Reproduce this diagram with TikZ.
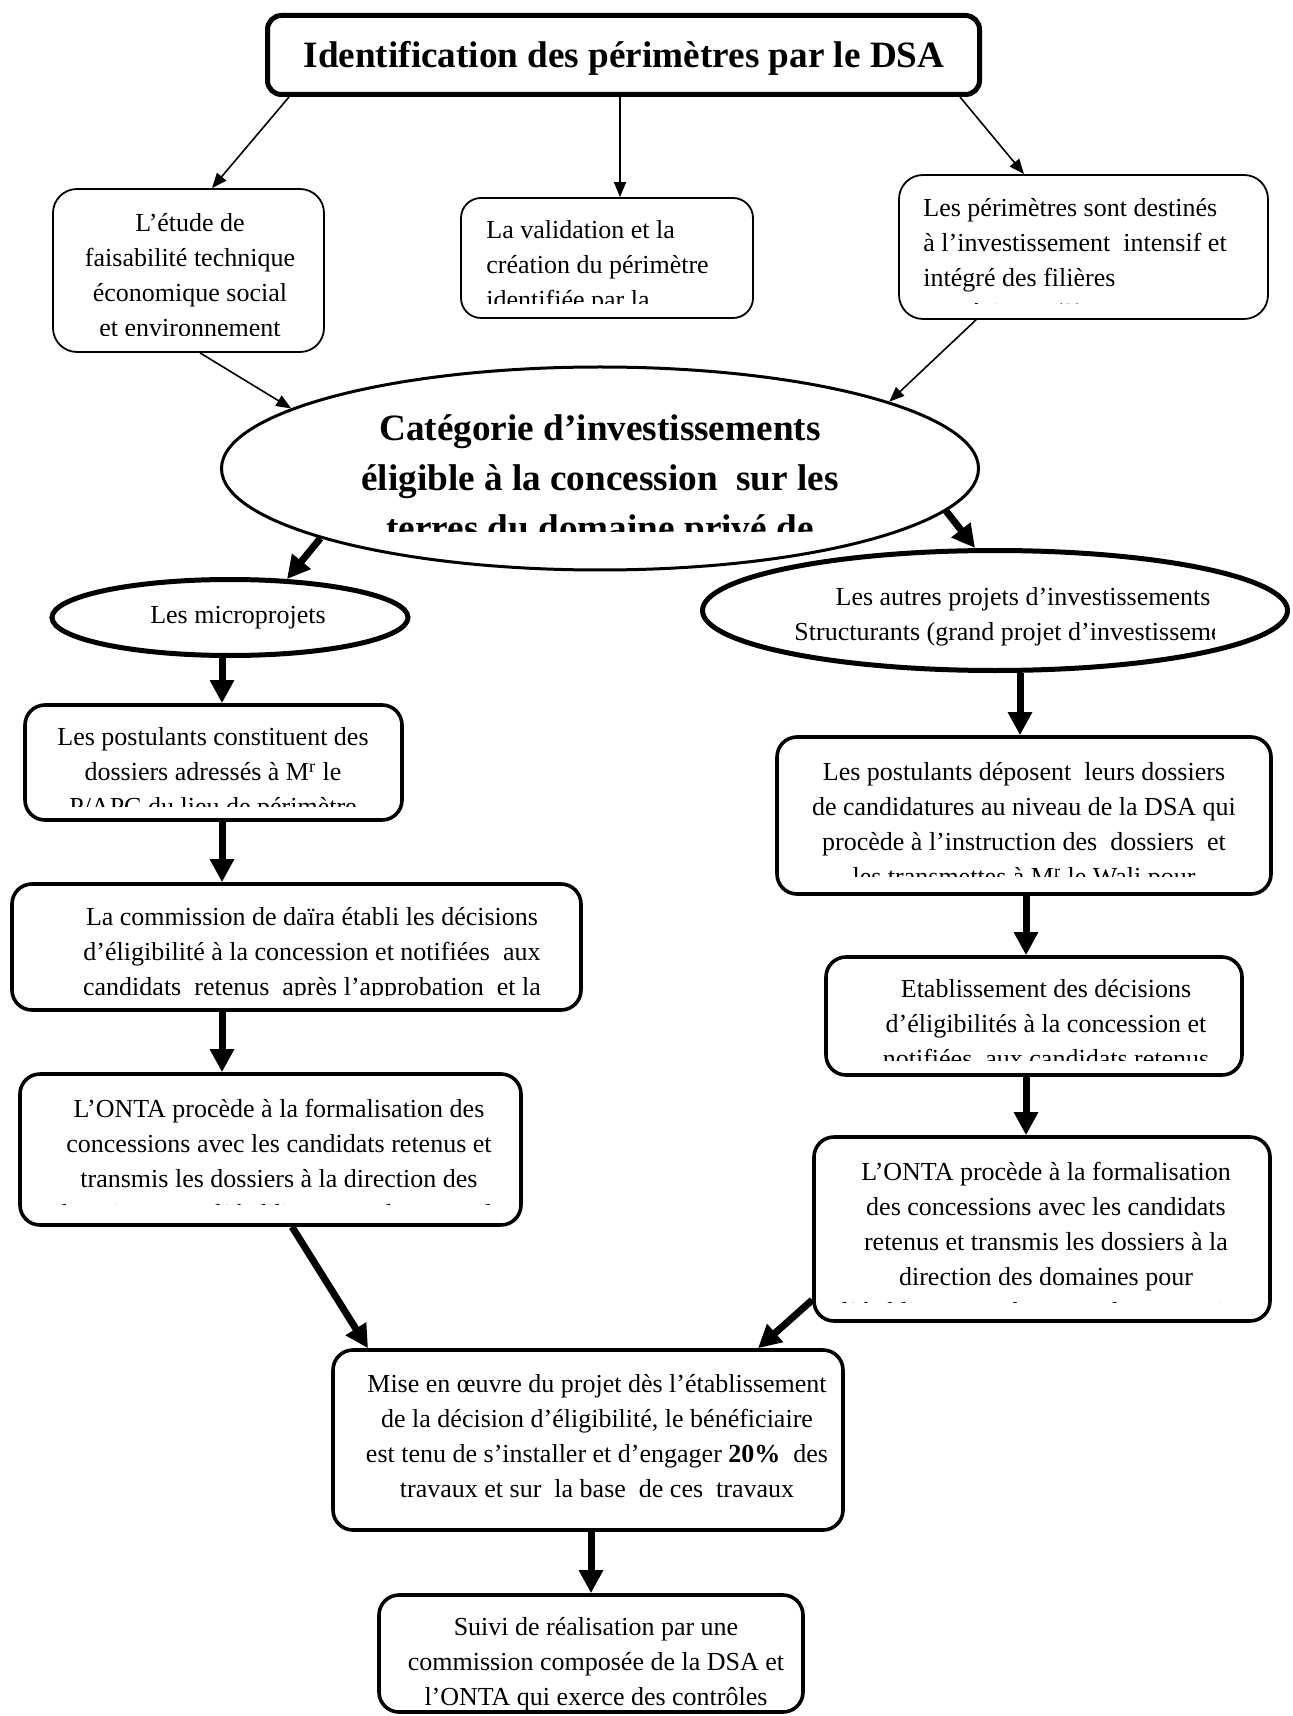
\documentclass[tikz,border=0pt]{standalone}
\usepackage{fontspec}
\setmainfont{Liberation Serif}
\usetikzlibrary{arrows.meta, shapes.geometric}

\begin{document}
\begin{tikzpicture}[x=0.5pt, y=-0.5pt,
		>={Triangle[length=7.5pt,width=6pt]},
		thinbox/.style={draw, line width=0.9pt, rounded corners=12pt, inner sep=0pt},
		thickbox/.style={draw, line width=1.8pt, rounded corners=10pt, inner sep=0pt},
		oval/.style={ellipse, draw, line width=2.5pt, inner sep=0pt},
		txt/.style={inner sep=0pt, align=center, anchor=north, font=\fontsize{13}{17.5}\selectfont, execute at begin node=\strut},
		thinarrow/.style={->, line width=0.8pt},
		bigarrow/.style={-{Triangle[length=11.5pt,width=11.5pt]}, line width=3.5pt}]

	\useasboundingbox (0,0) rectangle (1292,1716);

	% title
	\node[draw, line width=2.5pt, rounded corners=7pt, minimum width=356pt, minimum height=39.5pt] (dsa) at (623.5,55) {};
	\node[anchor=base, inner sep=0pt, font=\fontsize{18.6}{22}\selectfont\bfseries] (dsatxt) at (624,68) {Identification des périmètres par le DSA};

	% first row
	\node[thinbox, minimum width=135.5pt, minimum height=81.5pt] (etude) at (188.5,270.5) {};
	\begin{scope}
		\clip (etude.north west) rectangle (etude.east |- 0,336);
		\node[txt] (etudetxt) at (190,213.5) {L’étude de\\faisabilité technique\\économique social\\et environnement};
	\end{scope}

	\node[thinbox, rounded corners=10pt, minimum width=146pt, minimum height=60pt] (valid) at (607,258) {};
	\begin{scope}
		\clip (valid.north west) rectangle (valid.east |- 0,304);
		\node[txt, align=left, anchor=north west] (validtxt) at (486,220.5) {La validation et la\\création du périmètre\\identifiée par la};
	\end{scope}

	\node[thinbox, minimum width=184.5pt, minimum height=72pt] (perim) at (1083.5,247) {};
	\begin{scope}
		\clip (perim.north west) rectangle (perim.east |- 0,304);
		\node[txt, align=left, anchor=north west] (perimtxt) at (923,198.5) {Les périmètres sont destinés\\à l’investissement~ intensif et\\intégré des filières\\stratégiques (3)};
	\end{scope}

	% category
	\node[ellipse, draw, line width=1.5pt, inner sep=0pt, minimum width=378.5pt, minimum height=101.5pt] (cat) at (600,468.5) {};
	\begin{scope}
		\clip (cat.north west) rectangle (cat.east |- 0,532);
		\node[txt, font=\fontsize{18.6}{25}\selectfont\bfseries] (cattxt) at (600,414.5) {Catégorie d’investissements\\éligible à la concession~ sur les\\terres du domaine privé de};
	\end{scope}

	\node[oval, minimum width=178pt, minimum height=38pt] (micro) at (230,617.5) {};
	\node[txt] (microtxt) at (238,598.5) {Les microprojets};

	\node[oval, minimum width=292.5pt, minimum height=60pt] (autres) at (995,610.5) {};
	\begin{scope}
		\clip (autres.north west) rectangle (1214,0 |- autres.south);
		\node[txt] (autrestxt) at (1023,587.5) {Les autres projets d’investissements\\Structurants (grand projet d’investissement)};
	\end{scope}

	% left column
	\node[thickbox, minimum width=188.5pt, minimum height=57.5pt] (postmicro) at (213.5,762.5) {};
	\begin{scope}
		\clip (postmicro.north west) rectangle (postmicro.east |- 0,806);
		\node[txt] (postmicrotxt) at (213,727.5) {Les postulants constituent des\\dossiers adressés à M\textsuperscript{r} le\\P/APC du lieu de périmètre};
	\end{scope}

	\node[thickbox, minimum width=284.5pt, minimum height=63pt] (comm) at (296.5,947) {};
	\begin{scope}
		\clip (comm.north west) rectangle (comm.east |- 0,995);
		\node[txt] (commtxt) at (312,907.5) {La commission de daïra établi les décisions\\d’éligibilité à la concession et notifiées~ aux\\candidats~ retenus~ après l’approbation~ et la};
	\end{scope}

	\node[thickbox, minimum width=250.5pt, minimum height=75.5pt] (ontamicro) at (270.5,1149.5) {};
	\begin{scope}
		\clip (ontamicro.north west) rectangle (ontamicro.east |- 0,1204);
		\node[txt] (ontamicrotxt) at (279,1098.5) {L’ONTA procède à la formalisation des\\concessions avec les candidats retenus et\\transmis les dossiers à la direction des\\domaines pour l’établissement des actes de};
	\end{scope}

	% right column
	\node[thickbox, minimum width=247pt, minimum height=78.5pt] (postautres) at (1024,815.5) {};
	\begin{scope}
		\clip (postautres.north west) rectangle (postautres.east |- 0,876);
		\node[txt] (postautrestxt) at (1024,762.5) {Les postulants déposent~ leurs dossiers\\de candidatures au niveau de la DSA qui\\procède à l’instruction des~ dossiers~ et\\les transmettes à M\textsuperscript{r} le Wali pour};
	\end{scope}

	\node[thickbox, minimum width=208pt, minimum height=59pt] (etab) at (1034,1016) {};
	\begin{scope}
		\clip (etab.north west) rectangle (etab.east |- 0,1060);
		\node[txt] (etabtxt) at (1046,979.5) {Etablissement des décisions\\d’éligibilités à la concession et\\notifiées~ aux candidats retenus};
	\end{scope}

	\node[thickbox, minimum width=228pt, minimum height=92pt] (ontaautres) at (1042,1229) {};
	\begin{scope}
		\clip (ontaautres.north west) rectangle (ontaautres.east |- 0,1302);
		\node[txt] (ontaautrestxt) at (1046,1161.5) {L’ONTA procède à la formalisation\\des concessions avec les candidats\\retenus et transmis les dossiers à la\\direction des domaines pour\\l’établissement des actes de concession};
	\end{scope}

	% bottom
	\node[thickbox, minimum width=255pt, minimum height=90pt] (mise) at (588,1440) {};
	\node[txt] (misetxt) at (597,1374.5) {Mise en œuvre du projet dès l’établissement\\de la décision d’éligibilité, le bénéficiaire\\est tenu de s’installer et d’engager \textbf{20\%}~ des\\travaux et sur~ la base~ de ces~ travaux};

	\node[thickbox, minimum width=212pt, minimum height=58.5pt] (suivi) at (591,1653.5) {};
	\begin{scope}
		\clip (suivi.north west) rectangle (suivi.south east);
		\node[txt] (suivitxt) at (596,1617.5) {Suivi de réalisation par une\\commission composée de la DSA et\\l’ONTA qui exerce des contrôles};
	\end{scope}

	% connectors
	\draw[thinarrow] (dsa.south -| 289,0) -- (etude.north -| 212,0);
	\draw[thinarrow] (dsa.south -| 620,0) -- (valid.north -| 620,0);
	\draw[thinarrow] (dsa.south -| 960,0) -- (perim.north -| 1024,0);
	\draw[thinarrow] (etude.south -| 200,0) -- (cat.169.4);
	\draw[thinarrow] (perim.south -| 976,0) -- (cat.13.2);
	\draw[bigarrow] (cat.-166.4) -- (micro.34);
	\draw[bigarrow] (cat.-7.6) -- (autres.north -| 975,0);
	\draw[bigarrow] (micro.south -| 222,0) -- (postmicro.north -| 222,0);
	\draw[bigarrow] (postmicro.south -| 222,0) -- (comm.north -| 222,0);
	\draw[bigarrow] (comm.south -| 222,0) -- (ontamicro.north -| 222,0);
	\draw[bigarrow] (autres.south -| 1020,0) -- (postautres.north -| 1020,0);
	\draw[bigarrow] (postautres.south -| 1026,0) -- (etab.north -| 1026,0);
	\draw[bigarrow] (etab.south -| 1026,0) -- (ontaautres.north -| 1026,0);
	\draw[bigarrow] (ontamicro.south -| 292,0) -- (mise.north -| 368,0);
	\draw[bigarrow] (ontaautres.west |- 0,1300) -- (mise.north -| 758,0);
	\draw[bigarrow] (mise.south -| 591,0) -- (suivi.north -| 591,0);
\end{tikzpicture}
\end{document}
